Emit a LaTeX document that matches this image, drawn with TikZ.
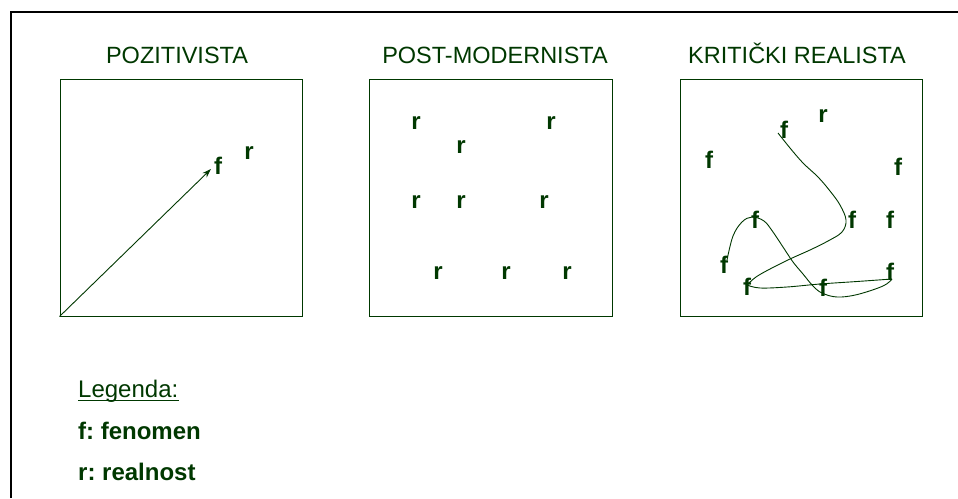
\documentclass[tikz,border=0pt]{standalone}
\usepackage{fontspec}
\setmainfont{Liberation Sans}
\usetikzlibrary{arrows.meta}
\definecolor{dg}{RGB}{0,56,0}
\frenchspacing
\begin{document}
\begin{tikzpicture}[x=1pt,y=-1pt,
  frame/.style={draw=dg, line width=1pt, inner sep=0pt, minimum width=242pt, minimum height=237pt},
  ttl/.style={text=dg, font=\fontsize{23.5}{27}\selectfont, anchor=base, inner sep=0pt},
  letter/.style={text=dg, font=\fontsize{24}{28}\selectfont\bfseries, inner sep=0pt},
  leg/.style={text=dg, font=\fontsize{24}{28}\selectfont, anchor=base west, inner sep=0pt},
  curve/.style={draw=dg, line width=0.9pt}]
\useasboundingbox (0,0) rectangle (958,498);
\fill[white] (0,0) rectangle (958,498);
% outer frame
\draw[line width=1.6pt] (11,498) -- (11,12) -- (958,12);
% titles
\node[ttl] (t1) at (177,63) {POZITIVISTA};
\node[ttl] (t2) at (495,63) {POST-MODERNISTA};
\node[ttl] (t3) at (797,63) {KRITIČKI REALISTA};
% boxes
\node[frame] (box1) at (181,197.5) {};
\node[frame, minimum width=243pt] (box2) at (490.5,197.5) {};
\node[frame] (box3) at (801,197.5) {};
% box 1
\node[letter] (f0) at (218,166) {f};
\node[letter] (r0) at (249,153) {r};
\coordinate (tip) at (211,169);
\draw[dg, line width=0.9pt, -{Stealth[length=9pt,width=6pt]}] (box1.south west) -- (tip);
% box 2
\node[letter] (r1) at (416,123) {r};
\node[letter] (r2) at (461,147) {r};
\node[letter] (r3) at (551,123) {r};
\node[letter] (r4) at (416,202) {r};
\node[letter] (r5) at (461,202) {r};
\node[letter] (r6) at (544,202) {r};
\node[letter] (r7) at (438,273) {r};
\node[letter] (r8) at (506,273) {r};
\node[letter] (r9) at (567,273) {r};
% box 3
\node[letter] (g1) at (709,160) {f};
\node[letter] (g2) at (784,130) {f};
\node[letter] (rr) at (823,116) {r};
\node[letter] (g3) at (898,167) {f};
\node[letter] (g4) at (852,220) {f};
\node[letter] (g5) at (890,220) {f};
\node[letter] (g6) at (755,220) {f};
\node[letter] (g7) at (724,265) {f};
\node[letter] (g8) at (747,287) {f};
\node[letter] (g9) at (823,288) {f};
\node[letter] (g10) at (890,272) {f};
\draw[curve] plot[smooth, tension=0.6] coordinates {(778,133) (790,148) (803,163) (818,177) (830,191) (840,205) (846,220) (842,232) (828,241) (810,250) (790,259) (770,269) (756,277) (747,285)};
\draw[curve] plot[smooth, tension=0.6] coordinates {(747,285) (760,288) (787,287) (820,284) (857,281.5) (892,279)};
\draw[curve] plot[smooth, tension=0.6] coordinates {(892,279) (883,286) (857,294.6) (837,297) (822,293) (813,286) (803,274) (793,262) (783,247) (773,232) (764,221) (752,217) (742,222) (733,236) (727,260)};
% legend
\node[leg] (lg) at (78,397) {Legenda:};
\draw[dg, line width=1.2pt] ([yshift=-3.5pt]lg.base west) -- ([yshift=-3.5pt]lg.base east);
\node[leg, font=\fontsize{24}{28}\selectfont\bfseries] (lf) at (78,439) {f: fenomen};
\node[leg, font=\fontsize{24}{28}\selectfont\bfseries] (lr) at (78,480) {r: realnost};
\end{tikzpicture}
\end{document}
